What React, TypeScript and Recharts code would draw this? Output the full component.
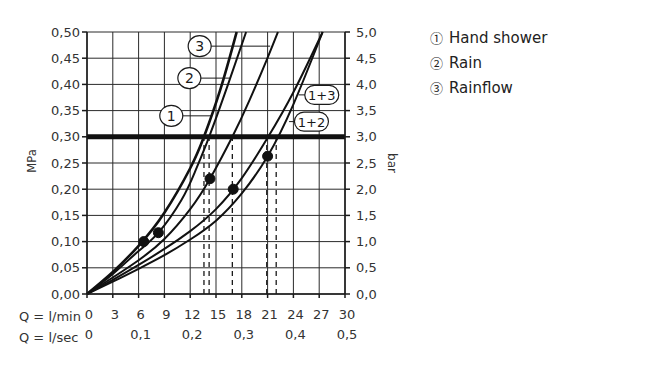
import React from 'react'
import {
  ComposedChart,
  Line,
  XAxis,
  YAxis,
  CartesianGrid,
  ReferenceLine,
  ReferenceDot,
} from 'recharts'

// flow in l/min, pressure in MPa
const flowTicks = [0, 3, 6, 9, 12, 15, 18, 21, 24, 27, 30]
const secTicks = [0, 6, 12, 18, 24, 30]
const mpaTicks = [0, 0.05, 0.1, 0.15, 0.2, 0.25, 0.3, 0.35, 0.4, 0.45, 0.5]
const barTicks = [0, 0.5, 1, 1.5, 2, 2.5, 3, 3.5, 4, 4.5, 5]

const handShowerQ = [0, 3, 6, 9, 12, 13.6, 15.5, 17.4]
const handShowerP = [0, 0.042, 0.092, 0.155, 0.24, 0.3, 0.39, 0.5]

const rainQ = [0, 3, 6, 8.3, 11, 12.6, 14.2, 16.4, 18.5]
const rainP = [0, 0.038, 0.082, 0.117, 0.18, 0.235, 0.3, 0.4, 0.5]

const rainflowQ = [0, 3, 6, 9, 12, 14.3, 16.9, 18.9, 20.9, 22.2]
const rainflowP = [0, 0.0315, 0.0645, 0.105, 0.162, 0.22, 0.3, 0.37, 0.447, 0.5]

const combo12Q = [0, 3, 6, 9, 12, 15, 18, 21, 24, 27.4]
const combo12P = [0, 0.027, 0.0555, 0.086, 0.12, 0.162, 0.221, 0.298, 0.385, 0.5]

const combo13Q = [0, 3, 6, 9, 12, 15, 18, 21, 24, 27.4]
const combo13P = [0, 0.0235, 0.048, 0.074, 0.104, 0.14, 0.192, 0.263, 0.362, 0.5]

// marked operating points
const markQ = [6.6, 8.3, 14.3, 17, 21]
const markP = [0.1, 0.117, 0.22, 0.2, 0.263]

// flow at 0,3 MPa (dashed drop lines)
const dropQ = [13.6, 14.2, 16.9, 20.9, 22.0]

const legendMarks = ['①', '②', '③']
const legendNames = ['Hand shower', 'Rain', 'Rainflow']

const toPoints = (q: number[], p: number[]) => q.map((v, i) => ({ q: v, p: p[i] }))

const curves = [
  { name: 'hand', data: toPoints(handShowerQ, handShowerP), w: 2.6 },
  { name: 'rain', data: toPoints(rainQ, rainP), w: 2 },
  { name: 'rainflow', data: toPoints(rainflowQ, rainflowP), w: 2 },
  { name: '1+2', data: toPoints(combo12Q, combo12P), w: 2 },
  { name: '1+3', data: toPoints(combo13Q, combo13P), w: 2 },
]

// same curve in bar, only used to drive the right / l/sec axes
const barHelper = combo12Q.map((q, i) => ({ q, b: combo12P[i] * 10 }))

const FONT = '"DejaVu Sans", sans-serif'
const INK = '#1a1a1a'

const comma = (v: number, d: number) => v.toFixed(d).replace('.', ',')

const CircleTag = (text: string) => (props: any) => (
  <g>
    <ellipse cx={props.cx} cy={props.cy} rx={11.5} ry={10.5} fill="#fff" stroke={INK} strokeWidth={1.2} />
    <text x={props.cx} y={props.cy + 5} textAnchor="middle" fontSize={14} fontFamily={FONT} fill={INK}>
      {text}
    </text>
  </g>
)

const PillTag = (text: string) => (props: any) => (
  <g>
    <rect x={props.cx - 17} y={props.cy - 9.5} width={34} height={19} rx={9.5} fill="#fff" stroke={INK} strokeWidth={1.2} />
    <text x={props.cx} y={props.cy + 5} textAnchor="middle" fontSize={13} fontFamily={FONT} fill={INK}>
      {text}
    </text>
  </g>
)

// label anchors: [q, p] of tag centre, and leader end q
const tags = [
  { text: '3', q: 13.1, p: 0.473, to: 21.3, pill: false },
  { text: '2', q: 11.9, p: 0.412, to: 16.6, pill: false },
  { text: '1', q: 9.8, p: 0.34, to: 14.5, pill: false },
  { text: '1+3', q: 27.3, p: 0.38, to: 24.6, pill: true },
  { text: '1+2', q: 26.1, p: 0.329, to: 23.5, pill: true },
]

const tickStyle = { fill: '#333', fontSize: 13, fontFamily: FONT }

export default function App() {
  return (
    <div style={{ position: 'absolute', left: 0, top: 0, width: 650, height: 366, background: '#fff', fontFamily: FONT }}>
      <ComposedChart width={650} height={366} margin={{ top: 32, right: 265, bottom: 28, left: 27 }}>
        <CartesianGrid stroke="#2a2a2a" strokeWidth={1} />
        <XAxis
          dataKey="q"
          type="number"
          domain={[0, 30]}
          ticks={flowTicks}
          allowDuplicatedCategory={false}
          height={22}
          tickSize={4}
          tickMargin={12}
          stroke={INK}
          strokeWidth={1.5}
          tick={{ ...tickStyle, dx: 2 }}
        />
        <XAxis
          xAxisId="sec"
          dataKey="q"
          type="number"
          domain={[0, 30]}
          ticks={secTicks}
          height={22}
          axisLine={false}
          tickLine={false}
          tickSize={0}
          tickMargin={14}
          tickFormatter={(v: number) => (v === 0 ? '0' : comma(v / 60, 1))}
          tick={{ ...tickStyle, dx: 2 }}
        />
        <YAxis
          type="number"
          domain={[0, 0.5]}
          ticks={mpaTicks}
          width={60}
          tickSize={5}
          tickMargin={2}
          stroke={INK}
          strokeWidth={1.5}
          tickFormatter={(v: number) => comma(v, 2)}
          tick={tickStyle}
        />
        <YAxis
          yAxisId="bar"
          orientation="right"
          type="number"
          domain={[0, 5]}
          ticks={barTicks}
          width={40}
          tickSize={5}
          tickMargin={6}
          stroke={INK}
          strokeWidth={1.5}
          tickFormatter={(v: number) => comma(v, 1)}
          tick={tickStyle}
        />

        <Line
          data={barHelper}
          xAxisId="sec"
          yAxisId="bar"
          dataKey="b"
          stroke="none"
          dot={false}
          activeDot={false}
          isAnimationActive={false}
        />

        {dropQ.map((q) => (
          <ReferenceLine
            key={'d' + q}
            segment={[{ x: q, y: 0 }, { x: q, y: 0.3 }]}
            stroke={INK}
            strokeWidth={1.3}
            strokeDasharray="5 4"
          />
        ))}

        <ReferenceLine y={0.3} stroke="#111" strokeWidth={5} />

        {curves.map((c) => (
          <Line
            key={c.name}
            data={c.data}
            dataKey="p"
            type="natural"
            stroke="#111"
            strokeWidth={c.w}
            dot={false}
            isAnimationActive={false}
          />
        ))}

        {markQ.map((q, i) => (
          <ReferenceDot key={'m' + i} x={q} y={markP[i]} r={5} fill="#111" stroke="#111" />
        ))}

        {tags.map((t) => (
          <ReferenceLine
            key={'l' + t.text}
            segment={[{ x: t.q, y: t.p }, { x: t.to, y: t.p }]}
            stroke={INK}
            strokeWidth={1}
          />
        ))}
        {tags.map((t) => (
          <ReferenceDot
            key={'t' + t.text}
            x={t.q}
            y={t.p}
            r={10}
            shape={t.pill ? PillTag(t.text) : CircleTag(t.text)}
          />
        ))}
      </ComposedChart>

      <div style={{ position: 'absolute', left: 19, top: 309, fontSize: 13, color: '#333', whiteSpace: 'pre' }}>Q = l/min</div>
      <div style={{ position: 'absolute', left: 19, top: 330, fontSize: 13, color: '#333', whiteSpace: 'pre' }}>Q = l/sec</div>
      <div
        style={{
          position: 'absolute',
          left: 32,
          top: 161,
          fontSize: 11.5,
          color: '#333',
          transform: 'translate(-50%, -50%) rotate(-90deg)',
        }}
      >
        MPa
      </div>
      <div
        style={{
          position: 'absolute',
          left: 392,
          top: 163,
          fontSize: 12,
          color: '#333',
          transform: 'translate(-50%, -50%) rotate(90deg)',
        }}
      >
        bar
      </div>

      {legendNames.map((s, i) => (
        <div key={s} style={{ position: 'absolute', left: 430, top: 28 + i * 25, height: 20, color: '#222', whiteSpace: 'pre' }}>
          <span style={{ fontSize: 13, fontFamily: '"Noto Sans CJK SC", sans-serif' }}>{legendMarks[i]}</span>
          <span style={{ fontSize: 15, marginLeft: 6 }}>{s}</span>
        </div>
      ))}
    </div>
  )
}
